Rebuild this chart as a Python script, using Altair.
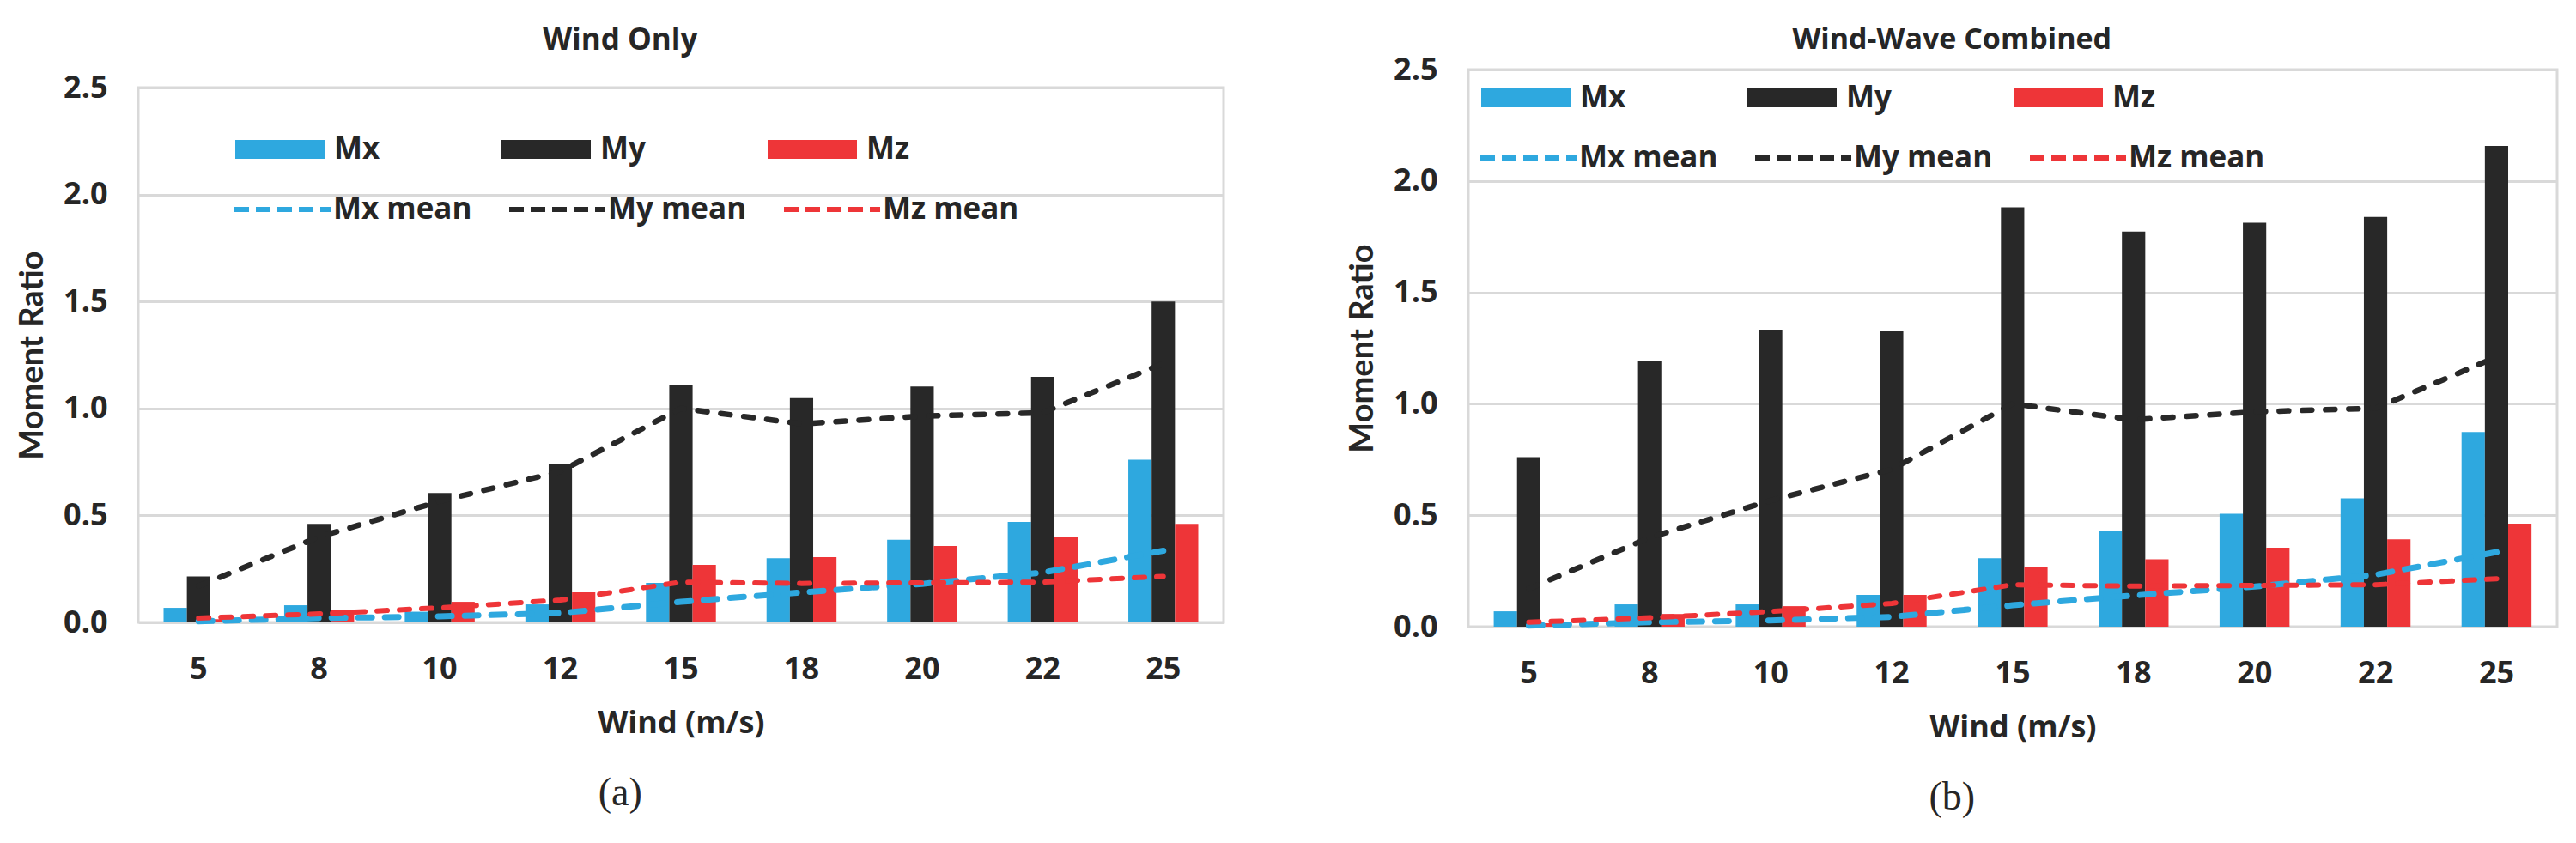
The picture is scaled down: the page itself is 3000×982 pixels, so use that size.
import altair as alt
import pandas as pd

WINDS = [5, 8, 10, 12, 15, 18, 20, 22, 25]
BAR_SERIES = ["Mx", "My", "Mz"]
MEAN_SERIES = ["Mx mean", "My mean", "Mz mean"]
COLORS = ["#2EA8DF", "#282828", "#EE3538"]
DASHES = [[16, 15], [11, 16], [12, 14]]
LINE_WIDTHS = [7, 6, 6]

# (a) Wind Only
A_MX = [0.068, 0.080, 0.050, 0.084, 0.185, 0.300, 0.386, 0.470, 0.760]
A_MY = [0.215, 0.460, 0.605, 0.741, 1.108, 1.048, 1.103, 1.148, 1.500]
A_MZ = [0.015, 0.060, 0.096, 0.140, 0.269, 0.305, 0.357, 0.397, 0.460]
# (b) Wind-Wave Combined
B_MX = [0.069, 0.100, 0.100, 0.143, 0.307, 0.428, 0.507, 0.576, 0.873]
B_MY = [0.761, 1.193, 1.333, 1.329, 1.882, 1.773, 1.812, 1.838, 2.157]
B_MZ = [0.015, 0.057, 0.092, 0.143, 0.268, 0.302, 0.354, 0.392, 0.462]
# mean curves (same in both panels)
MX_MEAN = [0.005, 0.020, 0.028, 0.044, 0.096, 0.140, 0.180, 0.233, 0.335]
MY_MEAN = [0.170, 0.400, 0.566, 0.706, 1.000, 0.928, 0.964, 0.980, 1.210]
MZ_MEAN = [0.020, 0.040, 0.068, 0.104, 0.188, 0.182, 0.185, 0.188, 0.215]

TXT = "#262626"
SANS = "Open Sans"
GRID = "#d9d9d9"
BAR_SYMBOL = "M-1,-0.21L1,-0.21L1,0.21L-1,0.21Z"


def spacer():
    # empty first row so that each panel's plot is placed by its own bounds
    return alt.Chart(pd.DataFrame({"s": [""]})).mark_text(
        fontSize=1, opacity=0
    ).encode(text="s:N").properties(
        width=1, height=1, view=alt.ViewBackground(strokeWidth=0)
    )


def make_panel(title_text, title_size, mx, my, mz, w, h, title_offset,
               bar_lx, bar_ly, line_lx, line_ly, caption):
    bar_df = pd.DataFrame({
        "wind": WINDS * 3,
        "series": [s for s in BAR_SERIES for _ in WINDS],
        "value": mx + my + mz,
    })
    line_df = pd.DataFrame({
        "wind": WINDS * 3,
        "stat": [s for s in MEAN_SERIES for _ in WINDS],
        "value": MX_MEAN + MY_MEAN + MZ_MEAN,
    })

    x_scale = alt.Scale(domain=WINDS, paddingInner=0.42, paddingOuter=0.21)
    y_scale = alt.Scale(domain=[0, 2.5], nice=False)

    x_axis = alt.Axis(
        title="Wind (m/s)", labelAngle=0, ticks=False, tickSize=0, domain=False,
        grid=False, labelFont=SANS, labelFontSize=36, labelFontWeight="bold",
        labelColor=TXT, labelPadding=37, titleFont=SANS, titleFontSize=36,
        titleFontWeight="bold", titleColor=TXT, titlePadding=28,
    )
    y_axis = alt.Axis(
        title="Moment Ratio", values=[0, 0.5, 1, 1.5, 2, 2.5], format=".1f",
        ticks=False, tickSize=0, domain=False, grid=True, gridColor=GRID,
        gridWidth=3, labelFont=SANS, labelFontSize=36, labelFontWeight="bold",
        labelColor=TXT, labelPadding=36, titleFont="Lato",
        titleFontSize=38, titleFontWeight="bold", titleColor=TXT,
        titlePadding=16,
    )

    bar_legend = alt.Legend(
        title=None, orient="none", legendX=bar_lx, legendY=bar_ly,
        direction="horizontal", columns=3, gridAlign="all", columnPadding=141,
        symbolType=BAR_SYMBOL, symbolSize=104 * 104, symbolStrokeWidth=0,
        symbolOpacity=1, labelFont=SANS, labelFontSize=35, labelFontWeight="bold",
        labelColor=TXT, labelOffset=11, labelLimit=400, padding=0, rowPadding=0,
    )
    line_legend = alt.Legend(
        title=None, orient="none", legendX=line_lx, legendY=line_ly,
        direction="horizontal", columns=3, gridAlign="all", columnPadding=31,
        symbolType="stroke", symbolSize=112 * 112, symbolOpacity=1,
        symbolStrokeWidth=6, symbolDash=[17, 8],
        labelFont=SANS, labelFontSize=35, labelFontWeight="bold", labelColor=TXT,
        labelOffset=0, labelLimit=400, padding=0, rowPadding=0,
    )

    bars = alt.Chart(bar_df).mark_bar().encode(
        x=alt.X("wind:O", scale=x_scale, axis=x_axis),
        xOffset=alt.XOffset("series:N", scale=alt.Scale(domain=BAR_SERIES, paddingInner=0, paddingOuter=0)),
        y=alt.Y("value:Q", scale=y_scale, axis=y_axis),
        fill=alt.Fill("series:N", scale=alt.Scale(domain=BAR_SERIES, range=COLORS), legend=bar_legend),
    )
    lines = alt.Chart(line_df).mark_line(strokeCap="round", strokeJoin="round").encode(
        x=alt.X("wind:O", scale=x_scale),
        y=alt.Y("value:Q", scale=y_scale),
        stroke=alt.Stroke("stat:N", scale=alt.Scale(domain=MEAN_SERIES, range=COLORS), legend=line_legend),
        strokeDash=alt.StrokeDash("stat:N", scale=alt.Scale(domain=MEAN_SERIES, range=DASHES), legend=None),
        strokeWidth=alt.StrokeWidth("stat:N", scale=alt.Scale(domain=MEAN_SERIES, range=LINE_WIDTHS), legend=None),
    )

    layer = alt.layer(bars, lines).properties(
        width=w, height=h,
        title=alt.Title(title_text, font=SANS, fontSize=title_size, fontWeight="bold",
                        color=TXT, anchor="middle", frame="bounds",
                        offset=title_offset),
    ).resolve_scale(fill="independent", stroke="independent")

    wrapped = alt.vconcat(spacer(), layer, spacing=0).properties(
        title=alt.Title(caption, orient="bottom", font="Liberation Serif",
                        fontSize=46, fontWeight="normal", color=TXT,
                        anchor="middle", frame="bounds", offset=40),
    ).resolve_scale(fill="independent", stroke="independent",
                    strokeDash="independent", strokeWidth="independent"
    ).resolve_legend(fill="independent", stroke="independent",
                     strokeDash="independent", strokeWidth="independent")
    return wrapped


left = make_panel("Wind Only", 35, A_MX, A_MY, A_MZ, 1264, 623, 19,
                  113, 20, 109, 83, "(a)")
right = make_panel("Wind-Wave Combined", 34, B_MX, B_MY, B_MZ, 1268, 649, -2,
                   15, -19, 11, 44, "(b)")

chart = alt.hconcat(left, right, spacing=140).resolve_scale(
    fill="independent", stroke="independent",
    strokeDash="independent", strokeWidth="independent",
).resolve_legend(
    fill="independent", stroke="independent",
    strokeDash="independent", strokeWidth="independent",
).properties(
    padding={"left": 10, "top": 18, "right": 5, "bottom": 5},
    background="white",
).configure_view(stroke=GRID, strokeWidth=3)

chart.save("out.html", embed_options={"renderer": "svg", "actions": False})
